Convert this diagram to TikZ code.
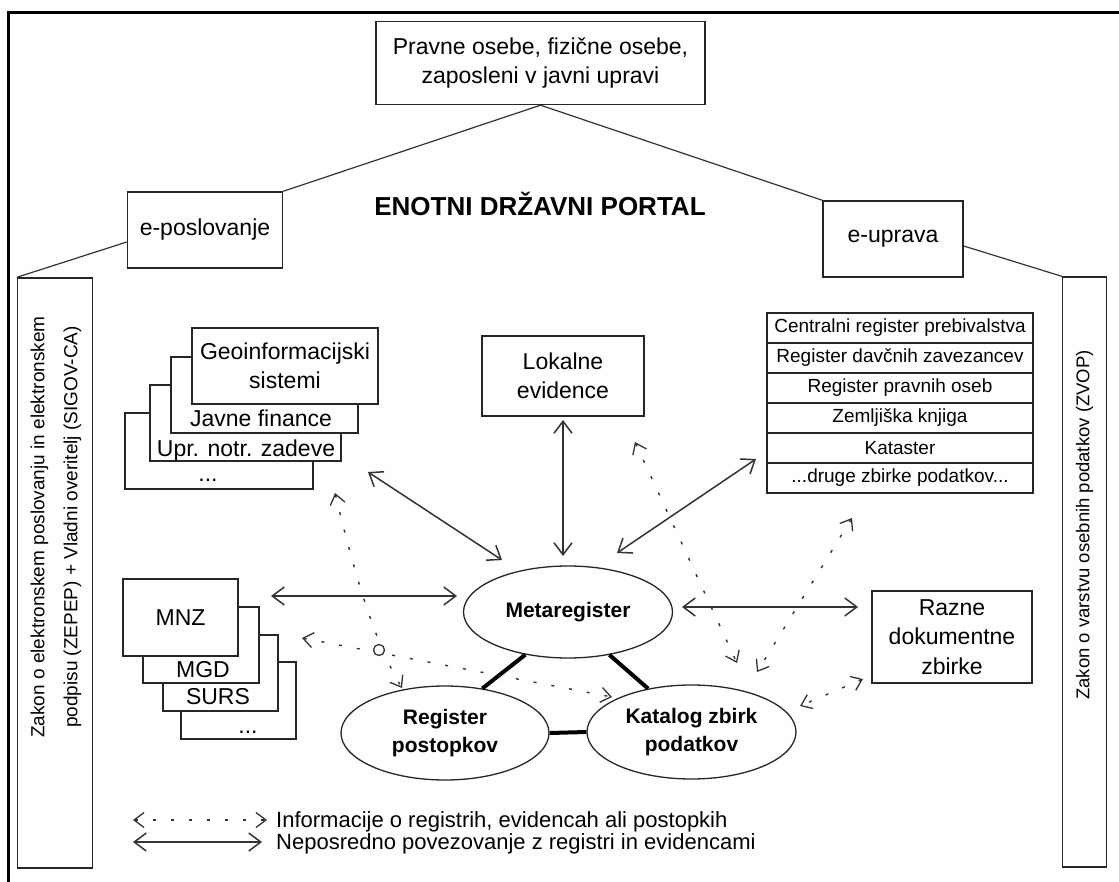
\documentclass[tikz,border=0pt]{standalone}
\usepackage{fontspec}
\setmainfont{Liberation Sans}
\usetikzlibrary{arrows.meta,shapes.geometric}
\tikzset{
  bx/.style={draw=black!85, line width=1.4pt, fill=white, inner sep=0pt, align=center},
  lbl/.style={inner sep=0pt, align=center},
  fA/.style={font=\fontsize{23}{28.5}\selectfont},
  fT/.style={font=\fontsize{19}{21}\selectfont},
  fE/.style={font=\bfseries\fontsize{21}{28}\selectfont},
  el/.style={draw=black!85, ellipse, line width=1.3pt, fill=white, inner sep=0pt, align=center, fE},
  roof/.style={draw=black!80, line width=1.2pt},
  thick link/.style={draw=black, line width=4pt},
  solidarr/.style={draw=black!80, line width=1.5pt, {Straight Barb[length=12pt,width=18pt,line width=1.5pt]}-{Straight Barb[length=12pt,width=18pt,line width=1.5pt]}},
  dotarr/.style={draw=black!80, line width=1.4pt, dash pattern=on 3pt off 15pt, {Straight Barb[length=10pt,width=15pt,line width=1.3pt]}-{Straight Barb[length=10pt,width=15pt,line width=1.3pt]}}
}
\begin{document}
\begin{tikzpicture}[x=1pt,y=-1pt]
\useasboundingbox (0,0) rectangle (1119,882);
\fill[white] (0,0) rectangle (1119,882);
% outer frame
\draw[line width=3pt] (8,882) -- (8,13) -- (1119,13);

% top part
\node[bx, fA, minimum width=329pt, minimum height=83pt] (top) at (540.5,63) {Pravne osebe, fizične osebe,\\zaposleni v javni upravi};
\node[bx, fA, minimum width=155pt, minimum height=76pt] (epos) at (205,230) {e-poslovanje};
\node[bx, fA, minimum width=140pt, minimum height=76pt] (eupr) at (893,239) {e-uprava};
\node[lbl, font=\bfseries\fontsize{26}{30}\selectfont] (portal) at (540,204) {ENOTNI DRŽAVNI PORTAL};

% side bars
\node[bx, minimum width=75pt, minimum height=590pt] (lbar) at (55,573) {};
\node[lbl, rotate=90, font=\fontsize{19}{33}\selectfont] (ltext) at (56,527) {Zakon o elektronskem poslovanju in elektronskem\\podpisu (ZEPEP) + Vladni overitelj (SIGOV-CA)};
\node[bx, minimum width=44pt, minimum height=590pt] (rbar) at (1084.5,572) {};
\node[lbl, rotate=90, font=\fontsize{18.5}{22}\selectfont] (rtext) at (1084.5,525) {Zakon o varstvu osebnih podatkov (ZVOP)};

% roof lines
\draw[roof] (top.south) -- (epos.north east);
\draw[roof] (top.south) -- (eupr.north west);
\draw[roof] ([yshift=-12pt]epos.west) -- (lbar.north west);
\draw[roof] ([yshift=-7pt]eupr.east) -- (rbar.north west);

% left upper stack
\node[bx, minimum width=188pt, minimum height=76pt] (g4) at (219,451) {};
\node[lbl, fA, anchor=base] (g4t) at (208,481) {...};
\node[bx, minimum width=191pt, minimum height=76pt] (g3) at (245.5,423) {};
\node[lbl, fA, anchor=base] (g3t) at (246,456) {Upr. notr. zadeve};
\node[bx, minimum width=187pt, minimum height=76pt] (g2) at (264.5,395) {};
\node[lbl, fA, anchor=base] (g2t) at (261,426) {Javne finance};
\node[bx, fA, minimum width=186pt, minimum height=76pt] (g1) at (285,366) {Geoinformacijski\\sistemi};

% Lokalne evidence
\node[bx, fA, minimum width=162pt, minimum height=80pt] (lok) at (563,376) {Lokalne\\evidence};

% register table
\node[bx, fT, minimum width=266pt, minimum height=30pt] (t1) at (900,328) {Centralni register prebivalstva};
\node[bx, fT, minimum width=266pt, minimum height=30pt] (t2) at (900,358) {Register davčnih zavezancev};
\node[bx, fT, minimum width=266pt, minimum height=30pt] (t3) at (900,388) {Register pravnih oseb};
\node[bx, fT, minimum width=266pt, minimum height=30pt] (t4) at (900,418) {Zemljiška knjiga};
\node[bx, fT, minimum width=266pt, minimum height=30pt] (t5) at (900,448) {Kataster};
\node[bx, fT, minimum width=266pt, minimum height=30pt] (t6) at (900,478) {...druge zbirke podatkov...};

% Razne dokumentne zbirke
\node[bx, font=\fontsize{23}{29.5}\selectfont, minimum width=160pt, minimum height=92pt] (razne) at (952,637) {Razne\\dokumentne\\zbirke};

% left lower stack
\node[bx, minimum width=115pt, minimum height=77pt] (m4) at (238.5,700.5) {};
\node[lbl, fA, anchor=base] (m4t) at (248,733) {...};
\node[bx, minimum width=115pt, minimum height=76pt] (m3) at (220.5,673) {};
\node[lbl, fA, anchor=base] (m3t) at (218,704) {SURS};
\node[bx, minimum width=116pt, minimum height=76pt] (m2) at (201,645) {};
\node[lbl, fA, anchor=base] (m2t) at (203,677) {MGD};
\node[bx, fA, minimum width=115pt, minimum height=77pt] (m1) at (180.5,617.5) {MNZ};

% ellipses
\node[el, minimum width=209pt, minimum height=92pt] (meta) at (568,612) {Metaregister};
\node[el, minimum width=208pt, minimum height=94pt] (regp) at (445,733) {Register\\postopkov};
\node[el, minimum width=209pt, minimum height=94pt] (kat) at (691.5,732) {Katalog zbirk\\podatkov};

% thick links
\draw[thick link] (meta.225) -- (regp.50);
\draw[thick link] (meta.-46) -- (kat.135);
\draw[thick link] (regp.east) -- (kat.west);

% solid arrows (free ends)
\coordinate (s1a) at (368,472); \coordinate (s1b) at (502,560);
\coordinate (s2a) at (563,420); \coordinate (s2b) at (563,556);
\coordinate (s3a) at (756,459); \coordinate (s3b) at (617,553);
\coordinate (s4a) at (271,596); \coordinate (s4b) at (457,596);
\coordinate (s5a) at (682,607); \coordinate (s5b) at (858,607);
\draw[solidarr] (s1a) -- (s1b);
\draw[solidarr] (s2a) -- (s2b);
\draw[solidarr] (s3a) -- (s3b);
\draw[solidarr] (s4a) -- (s4b);
\draw[solidarr] (s5a) -- (s5b);

% dotted arrows
\coordinate (d1a) at (335,493); \coordinate (d1b) at (402,688);
\coordinate (d2a) at (302,638); \coordinate (d2b) at (612,697);
\coordinate (d3a) at (635,442); \coordinate (d3b) at (737,663);
\coordinate (d4a) at (852,518); \coordinate (d4b) at (757,672);
\coordinate (d5a) at (863,679); \coordinate (d5b) at (800,706);
\draw[dotarr] (d1a) .. controls (352,563) and (372,638) .. (d1b);
\draw[dotarr] (d2a) -- (d2b);
\draw[dotarr] (d3a) -- (d3b);
\draw[dotarr] (d4a) -- (d4b);
\draw[dotarr] (d5a) -- (d5b);
\node[draw=black!80, line width=1.3pt, fill=white, circle, minimum size=11pt, inner sep=0pt] (cross) at (379,650) {};

% legend
\coordinate (l1a) at (133,820); \coordinate (l1b) at (267,820);
\coordinate (l2a) at (133,842); \coordinate (l2b) at (262,842);
\draw[dotarr] (l1a) -- (l1b);
\draw[solidarr] (l2a) -- (l2b);
\node[lbl, anchor=base west, font=\fontsize{22}{22}\selectfont] (leg1) at (276,827) {Informacije o registrih, evidencah ali postopkih};
\node[lbl, anchor=base west, font=\fontsize{22}{22}\selectfont] (leg2) at (276,849) {Neposredno povezovanje z registri in evidencami};
\end{tikzpicture}
\end{document}
